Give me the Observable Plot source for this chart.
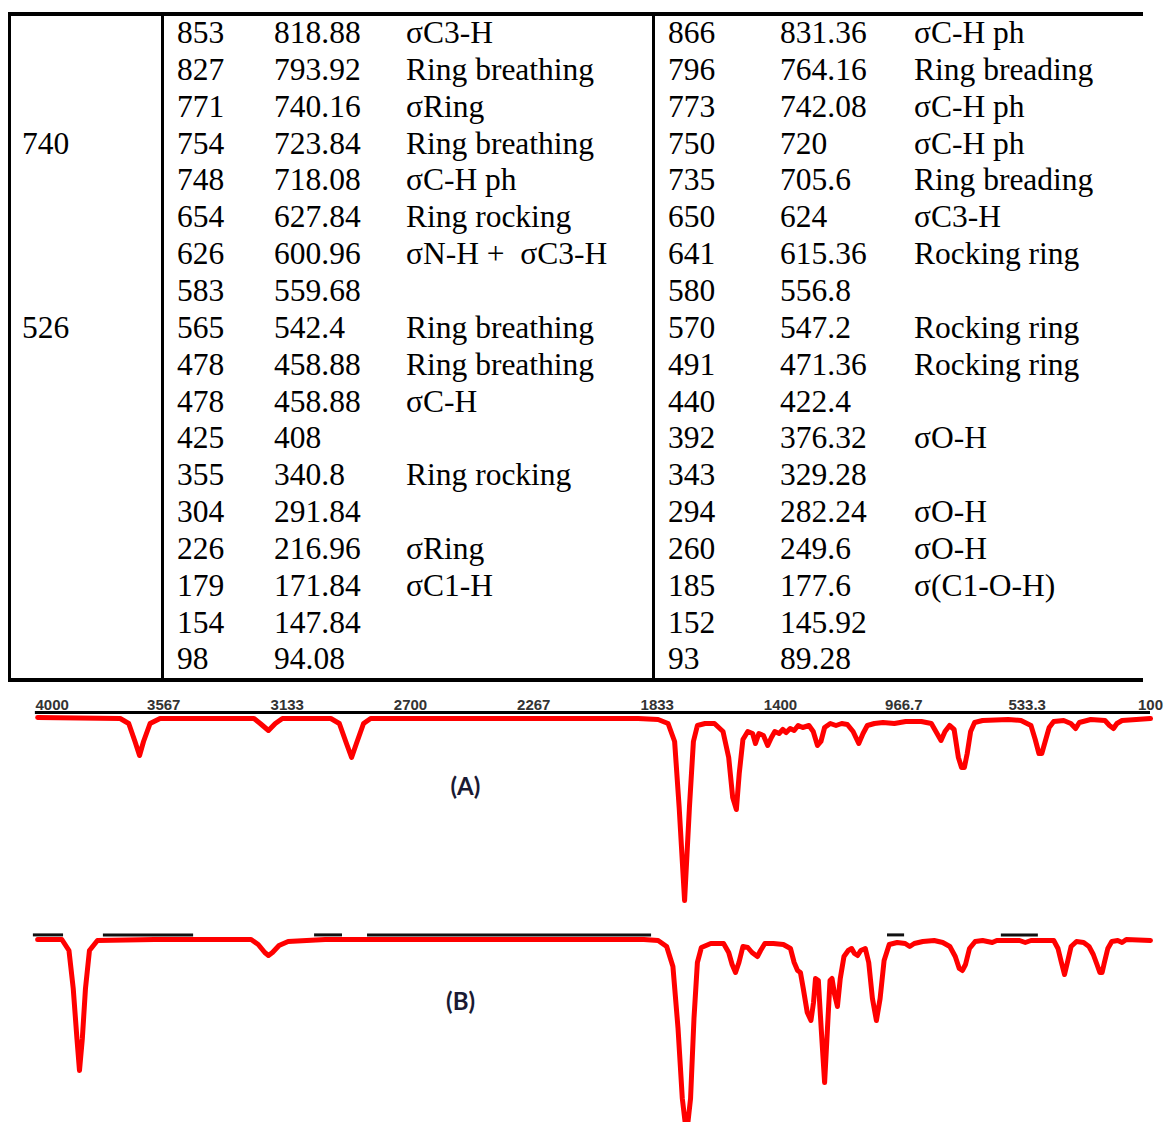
<!DOCTYPE html>
<html>
<head>
<meta charset="utf-8">
<script src="https://cdn.jsdelivr.net/npm/d3@7"></script>
<script src="https://cdn.jsdelivr.net/npm/@observablehq/plot@0.6"></script>
<style>
  html, body { margin: 0; padding: 0; background: #fff; }
  #page { position: relative; width: 1164px; height: 1122px; overflow: hidden; background: #fff; }
  .tline { position: absolute; background: #000; }
  .cell { position: absolute; font-family: "Liberation Serif", "Times New Roman", serif; font-size: 31.5px; line-height: 36.85px; color: #000; white-space: pre; }
  #chart { position: absolute; left: 0; top: 682px; }
</style>
</head>
<body>
<div id="page">
  <div id="table"></div>
  <div id="chart"></div>
</div>
<script>
// ---------------- table data ----------------
const obsCol = ["", "", "", "740", "", "", "", "", "526", "", "", "", "", "", "", "", "", ""];
const leftCalc = ["853", "827", "771", "754", "748", "654", "626", "583", "565", "478", "478", "425", "355", "304", "226", "179", "154", "98"];
const leftScaled = ["818.88", "793.92", "740.16", "723.84", "718.08", "627.84", "600.96", "559.68", "542.4", "458.88", "458.88", "408", "340.8", "291.84", "216.96", "171.84", "147.84", "94.08"];
const leftAssign = ["σC3-H", "Ring breathing", "σRing", "Ring breathing", "σC-H ph", "Ring rocking", "σN-H +  σC3-H", "", "Ring breathing", "Ring breathing", "σC-H", "", "Ring rocking", "", "σRing", "σC1-H", "", ""];
const rightCalc = ["866", "796", "773", "750", "735", "650", "641", "580", "570", "491", "440", "392", "343", "294", "260", "185", "152", "93"];
const rightScaled = ["831.36", "764.16", "742.08", "720", "705.6", "624", "615.36", "556.8", "547.2", "471.36", "422.4", "376.32", "329.28", "282.24", "249.6", "177.6", "145.92", "89.28"];
const rightAssign = ["σC-H ph", "Ring breading", "σC-H ph", "σC-H ph", "Ring breading", "σC3-H", "Rocking ring", "", "Rocking ring", "Rocking ring", "", "σO-H", "", "σO-H", "σO-H", "σ(C1-O-H)", "", ""];

// ---------------- spectrum data (wavenumber cm-1, transmittance %) ----------------
const xTicks = [4000, 3567, 3133, 2700, 2267, 1833, 1400, 966.7, 533.3, 100];

const spectrumA = [
  [4010,100],[3720,99.5],[3690,97],[3668,88],[3652,81],[3638,88],[3615,97],[3580,99.5],
  [3250,99.5],[3228,97],[3199,93.5],[3175,97],[3150,99.5],
  [2980,99.5],[2950,97],[2925,87],[2907,80],[2890,87],[2865,97],[2840,99.5],
  [1900,99.5],[1830,99],[1795,97],[1772,88],[1756,55],[1737,8.5],[1720,55],[1706,88],[1692,96],
  [1665,97],[1632,97],[1602,93],[1582,80],[1568,60],[1555,54],[1545,72],[1532,89],
  [1515,93],[1498,92],[1488,87],[1476,92],[1460,91],[1445,86],[1432,90],[1420,93],[1405,92],
  [1392,94],[1380,92.5],[1366,94.5],[1352,93.5],[1338,96],[1322,95],[1300,96],[1285,93],
  [1270,86],[1258,88],[1245,95],[1225,97],[1205,96],[1185,97],[1165,96.5],[1145,93],
  [1125,87],[1110,92],[1095,96],[1070,97],[1040,97.5],[1000,97],[960,98],[905,98],
  [870,97],[850,92],[836,88.5],[822,93],[806,96],[790,94],[775,80],[764,75],[754,75],
  [744,82],[732,93],[718,97.5],[690,98.5],[600,99],[555,98.5],[520,96],[505,89],[492,82],
  [482,82],[470,88],[456,95],[440,98],[405,98.5],[380,97],[363,94.5],[350,97.5],[310,99],
  [260,98.5],[244,96],[230,94.5],[218,97],[200,98.5],[150,99],[100,99.5]
];

const spectrumB = [
  [4010,99.5],[3925,99.5],[3900,94],[3885,75],[3872,50],[3863,34],[3853,50],[3842,75],[3828,94],[3800,99],
  [3600,99.5],[3260,99.5],[3235,97],[3212,93],[3199,91.5],[3185,93],[3162,96.5],[3130,98.5],[3000,99.5],
  [1880,99.5],[1830,99],[1800,96],[1778,86],[1760,55],[1745,20],[1730,2],[1716,20],[1704,60],[1692,88],[1678,95.5],
  [1645,97.5],[1600,97.5],[1582,93],[1570,87],[1558,83],[1546,88],[1532,96],
  [1515,95.5],[1500,93],[1481,91],[1470,94],[1455,97.5],[1425,97.5],[1390,97],
  [1365,95],[1352,88],[1340,84],[1330,83],[1320,75],[1306,63],[1293,59],[1284,68],[1277,80],
  [1267,79],[1257,55],[1245,28],[1235,55],[1226,79],[1219,80],[1210,72],[1200,66],
  [1190,80],[1177,91],[1162,94],[1150,95],[1140,92.5],[1129,91.5],[1118,94],[1102,95],
  [1090,88],[1077,70],[1063,59],[1050,70],[1036,89],[1018,97],[990,98],[962,97.5],
  [946,96],[930,97.5],[900,98.5],[860,99],[830,98],[805,96],[786,91],[772,85],[761,84],
  [750,87],[736,95],[716,98.5],[690,99],[656,98],[640,99],[560,99],[540,98],[520,99],
  [440,99],[425,95],[413,88],[402,82],[392,88],[379,96],[360,98.5],[335,98],[316,96],
  [301,92],[288,87],[278,83],[270,83],[262,88],[250,95],[236,98.5],[215,99],[200,98],
  [185,99.5],[100,99]
];

// remnants of the black base line of trace (B) that show above the red trace
const traceBSegments = [[4025,3919],[3779,3462],[3037,2939],[2851,1853],[1024,964],[624,494]];

const panelLabels = [
  {wn: 2507, t: 65, text: "(A)", offset: 0},
  {wn: 2524, t: 68, text: "(B)", offset: -110.5}
];
const offsetB = -110.5;

// ---------------- draw table ----------------
const table = document.getElementById("table");
function line(l, t, w, h) {
  const d = document.createElement("div");
  d.className = "tline";
  d.style.left = l + "px"; d.style.top = t + "px"; d.style.width = w + "px"; d.style.height = h + "px";
  table.appendChild(d);
}
line(8, 12, 1135, 4);     // top border
line(8, 678, 1135, 4);    // bottom border
line(8, 12, 2.5, 669);    // left border
line(161, 12, 2.5, 669);  // divider
line(652, 12, 2.5, 669);  // divider

const columns = [
  {x: 22, vals: obsCol},
  {x: 177, vals: leftCalc},
  {x: 274, vals: leftScaled},
  {x: 406, vals: leftAssign},
  {x: 668, vals: rightCalc},
  {x: 780, vals: rightScaled},
  {x: 914, vals: rightAssign}
];
const rowTop = 15, rowH = 36.85;
columns.forEach(col => {
  col.vals.forEach((v, i) => {
    if (!v) return;
    const d = document.createElement("div");
    d.className = "cell";
    d.style.left = col.x + "px";
    d.style.top = (rowTop + i * rowH) + "px";
    d.textContent = v;
    table.appendChild(d);
  });
});

// ---------------- draw spectrum ----------------
const chart = Plot.plot({
  width: 1164,
  height: 440,
  marginTop: 30,
  marginBottom: 0,
  marginLeft: 40,
  marginRight: 14,
  x: {domain: [4000, 100], axis: null},
  y: {domain: [-102.5, 102.5], axis: null},
  style: {background: "white", fontFamily: "'Liberation Sans', Arial, sans-serif"},
  marks: [
    Plot.ruleY(traceBSegments, {x1: d => d[0], x2: d => d[1], y: 101.8 + offsetB, stroke: "#111", strokeWidth: 3}),
    Plot.line(spectrumA, {x: d => d[0], y: d => d[1], stroke: "#ff0000", strokeWidth: 5, strokeLinejoin: "round", strokeLinecap: "round"}),
    Plot.line(spectrumB, {x: d => d[0], y: d => d[1] + offsetB, stroke: "#ff0000", strokeWidth: 5, strokeLinejoin: "round", strokeLinecap: "round"}),
    Plot.ruleY([102.5], {x1: 4018, x2: 100, stroke: "#000", strokeWidth: 3}),
    Plot.text(xTicks.slice(1), {x: d => d, y: 102.5, text: d => String(d), lineAnchor: "bottom", dy: -3, fontSize: 15, fontWeight: "bold", fill: "#333"}),
    Plot.text(xTicks.slice(0, 1), {x: d => d, y: 102.5, text: d => String(d), lineAnchor: "bottom", textAnchor: "start", dx: -5, dy: -3, fontSize: 15, fontWeight: "bold", fill: "#333"}),
    Plot.text(panelLabels, {x: "wn", y: d => d.t + d.offset, text: "text", fontSize: 24, fontWeight: "bold", fill: "#1a1a33", fontFamily: "Lato, 'Open Sans', sans-serif"})
  ]
});
document.getElementById("chart").appendChild(chart);
</script>
</body>
</html>
